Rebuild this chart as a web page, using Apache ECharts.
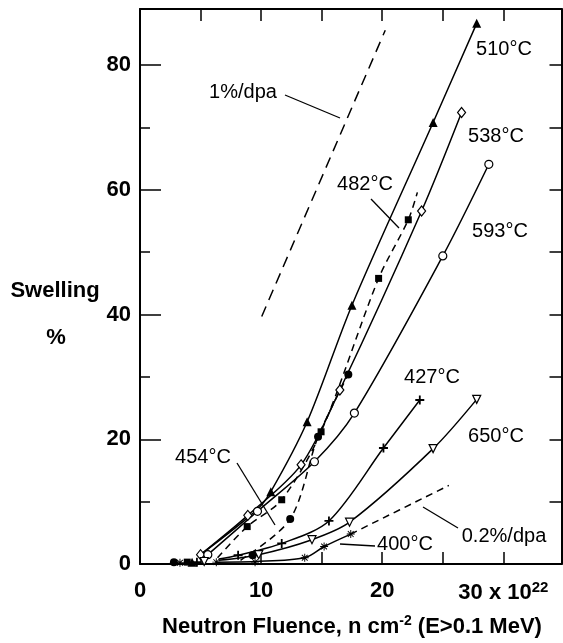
<!DOCTYPE html>
<html>
<head>
<meta charset="utf-8">
<script src="https://cdn.jsdelivr.net/npm/echarts@6/dist/echarts.min.js"></script>
<style>
html,body{margin:0;padding:0;background:#fff;}
#c{width:563px;height:643px;}
</style>
</head>
<body>
<div id="c"></div>
<script>
// ---- data (fluence in 1e22 n/cm2, swelling in %) ----
const xTicks = [0, 10, 20, 30];
const yTicks = [0, 20, 40, 60, 80];

// markers
const m510 = [[4.3,0.3],[10.8,11.6],[13.8,22.8],[17.5,41.5],[24.2,70.8],[27.8,86.7]];
const m538 = [[5.0,1.5],[8.9,7.8],[13.3,15.9],[16.5,27.9],[23.25,56.6],[26.55,72.4]];
const m593 = [[5.6,1.5],[9.7,8.45],[14.4,16.4],[17.7,24.2],[25.0,49.4],[28.8,64.1]];
const m482 = [[3.9,0.3],[8.85,6.0],[11.7,10.3],[14.95,21.2],[19.7,45.8],[22.15,55.2]];
const m454 = [[2.8,0.3],[9.3,1.4],[12.4,7.2],[14.7,20.4],[17.2,30.4]];
const m427 = [[4.7,0.3],[8.1,1.4],[11.7,3.3],[15.6,6.9],[20.1,18.6],[23.1,26.3]];
const m650 = [[5.3,0.4],[9.8,1.5],[14.2,3.9],[17.3,6.7],[24.2,18.5],[27.8,26.4]];
const m400 = [[3.3,0.2],[6.3,0.3],[9.5,0.3],[13.6,1.0],[15.2,2.8],[17.4,4.8]];

// drawn curves
const c510 = [[5.0,1.5],[9.6,8.6],[10.8,11.6],[13.8,22.8],[17.5,41.5],[24.2,70.8],[27.8,86.7]];
const c538 = [[5.0,1.5],[8.9,7.8],[13.3,15.9],[16.5,27.9],[23.25,56.6],[26.55,72.4]];
const c593 = [[5.6,1.5],[9.7,8.45],[14.4,16.4],[17.7,24.2],[25.0,49.4],[28.8,64.1]];
const c482 = [[6.4,1.0],[8.85,6.0],[11.7,10.3],[14.95,21.2],[19.7,45.8],[22.15,55.2],[22.9,59.6]];
const c454 = [[8.3,0.6],[12.4,7.2],[14.7,20.4],[17.2,30.4]];
const c427 = [[6.5,0.8],[8.1,1.4],[11.7,3.3],[15.6,6.9],[20.1,18.6],[23.1,26.3]];
const c650 = [[6.5,0.6],[9.8,1.5],[14.2,3.9],[17.3,6.7],[24.2,18.5],[27.8,26.4]];
const c400 = [[6.3,0.3],[9.5,0.4],[13.6,1.0],[15.2,2.8],[17.4,4.8]];
const rate02 = [[17.4,4.8],[25.5,12.6]];
const rate1 = [[10.05,39.7],[20.25,85.6]];

const FONT = '"Liberation Sans", Arial, Helvetica, sans-serif';
const K = '#000';

const chart = echarts.init(document.getElementById('c'), null, {renderer:'canvas'});

function lineS(data, dashed, dash) {
  return {
    type:'line', data:data, showSymbol:false, symbol:'none', smooth:0.3,
    lineStyle:{color:K, width:1.5, type: dashed ? (dash || [7,5]) : 'solid'},
    z:2, silent:true, animation:false
  };
}
function markS(data, symbol, filled, size, rotate) {
  return {
    type:'scatter', data:data, symbol:symbol, symbolSize:size, symbolRotate:rotate||0,
    itemStyle:{color: filled ? K : '#fff', borderColor:K, borderWidth: filled ? 0 : 1.2, opacity:1},
    z:3, silent:true, animation:false
  };
}
const plusPath = 'path://M4,0H6V4H10V6H6V10H4V6H0V4H4Z';
const starPath = 'path://M4.4,0H5.6V10H4.4Z M0,4.4H10V5.6H0Z M1.0,1.8L1.8,1.0L9.0,8.2L8.2,9.0Z M8.2,1.0L9.0,1.8L1.8,9.0L1.0,8.2Z';

const tickStyle = {color:K, width:1.5};
const option = {
  backgroundColor:'#fff',
  animation:false,
  grid:{left:140, right:1.5, top:9, bottom:79, outerBoundsMode:'none', containLabel:false},
  xAxis:[
    {type:'value', position:'bottom', min:0, max:34.8, interval:5,
     axisLine:{show:true, onZero:false, lineStyle:{color:K, width:2}},
     axisTick:{show:true, inside:true, length:12, lineStyle:tickStyle},
     splitLine:{show:false},
     axisLabel:{show:true, margin:16, showMaxLabel:false, color:K, fontFamily:FONT, fontSize:22, fontWeight:'bold',
       formatter:function(v){
         if (xTicks.indexOf(v) < 0) return '';
         if (v === xTicks[xTicks.length-1]) return '{a|' + v + ' x 10}{s|22}';
         return '' + v;
       },
       rich:{
         a:{fontFamily:FONT, fontSize:22, fontWeight:'bold', color:K, verticalAlign:'bottom'},
         s:{fontFamily:FONT, fontSize:15, fontWeight:'bold', color:K, verticalAlign:'bottom', padding:[0,0,9,0]}
       }}
    },
    {type:'value', position:'top', min:0, max:34.8, interval:5,
     axisLine:{show:true, onZero:false, lineStyle:{color:K, width:2}},
     axisTick:{show:true, inside:true, length:12, lineStyle:tickStyle},
     splitLine:{show:false}, axisLabel:{show:false}}
  ],
  yAxis:[
    {type:'value', position:'left', min:0, max:89, interval:10,
     axisLine:{show:true, onZero:false, lineStyle:{color:K, width:2}},
     axisTick:{show:true, inside:true, length:10, lineStyle:tickStyle},
     splitLine:{show:false},
     axisLabel:{show:true, margin:9, showMaxLabel:false, color:K, fontFamily:FONT, fontSize:22, fontWeight:'bold',
       formatter:function(v){ return yTicks.indexOf(v) >= 0 ? ''+v : ''; }}
    },
    {type:'value', position:'left', min:0, max:89, interval:20,
     axisLine:{show:false}, axisTick:{show:true, inside:true, length:21, lineStyle:tickStyle},
     splitLine:{show:false}, axisLabel:{show:false}},
    {type:'value', position:'right', min:0, max:89, interval:10,
     axisLine:{show:true, onZero:false, lineStyle:{color:K, width:2}},
     axisTick:{show:true, inside:true, length:12, lineStyle:tickStyle},
     splitLine:{show:false}, axisLabel:{show:false}}
  ],
  series:[
    lineS(c510,false), lineS(c538,false), lineS(c593,false),
    lineS(c482,true), lineS(c454,true),
    lineS(c427,false), lineS(c650,false), lineS(c400,false),
    lineS(rate02,true,[7,5]), lineS(rate1,true,[11,7]),
    markS(m510,'triangle',true,9),
    markS(m538,'diamond',false,[8,10]),
    markS(m593,'circle',false,8),
    markS(m482,'rect',true,7),
    markS(m454,'circle',true,8),
    markS(m427,plusPath,true,9),
    markS(m650,'triangle',false,8,180),
    markS(m400,starPath,true,8)
  ],
  graphic:[]
};

function txt(x, y, s, size, weight) {
  return {type:'text', x:x, y:y, silent:true, z:10,
    style:{text:s, fill:K, font:(weight||'normal') + ' ' + (size||20) + 'px ' + FONT, align:'center', verticalAlign:'middle'}};
}
function seg(x1,y1,x2,y2) {
  return {type:'line', silent:true, z:10, shape:{x1:x1,y1:y1,x2:x2,y2:y2}, style:{stroke:K, lineWidth:1.3}};
}
option.graphic = [
  txt(504,49,'510°C'),
  txt(496,136,'538°C'),
  txt(365,184,'482°C'), seg(371,199,399,228),
  txt(500,231,'593°C'),
  txt(432,377,'427°C'),
  txt(496,436,'650°C'),
  txt(203,457,'454°C'), seg(237,463,275,525),
  txt(504,536,'0.2%/dpa'), seg(423,507,458,528),
  txt(405,544,'400°C'), seg(340,544,375,546),
  txt(243,92,'1%/dpa'), seg(285,95,340,118),
  txt(55,291,'Swelling',22,'bold'),
  txt(56,338,'%',22,'bold'),
  {type:'text', x:352, y:626, silent:true, z:10,
   style:{text:'{a|Neutron Fluence, n cm}{s|-2}{a| (E>0.1 MeV)}', align:'center', verticalAlign:'middle',
     rich:{a:{font:'bold 22px ' + FONT, fill:K, verticalAlign:'bottom'},
           s:{font:'bold 14px ' + FONT, fill:K, verticalAlign:'bottom', padding:[0,0,9,0]}}}}
];

chart.setOption(option);
</script>
</body>
</html>
